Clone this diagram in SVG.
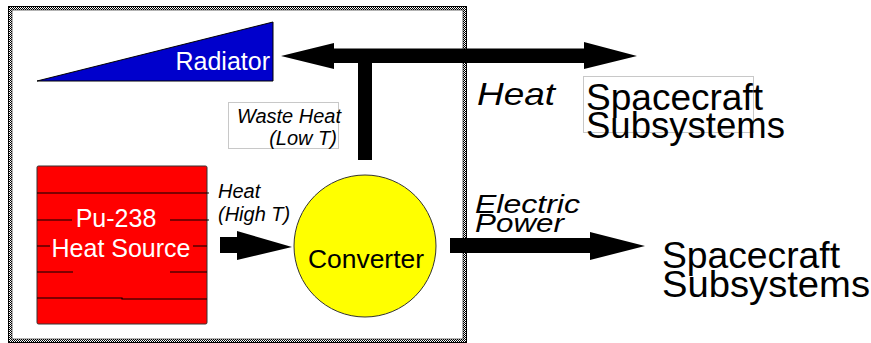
<svg xmlns="http://www.w3.org/2000/svg" width="871" height="343" viewBox="0 0 871 343">
<defs>
<pattern id="chk" width="2" height="2" patternUnits="userSpaceOnUse">
<rect width="2" height="2" fill="#fff"/>
<rect width="1" height="1" fill="#000"/>
<rect x="1" y="1" width="1" height="1" fill="#000"/>
</pattern>
</defs>
<style>
text{font-family:"Liberation Sans",Arial,sans-serif;}
.it{font-style:italic;}
.w{fill:#fff;}
.k{fill:#000;}
.lbl{fill:none;stroke:#c8c8c8;stroke-width:1;}
.ln{stroke:#000;stroke-width:1.2;fill:none;}
.arr{fill:#000;stroke:none;}
</style>
<rect width="871" height="343" fill="#fff"/>
<g id="boundary">
<rect x="8" y="6" width="459" height="337" fill="url(#chk)"/>
<rect x="8.5" y="6.5" width="458" height="336" fill="none" stroke="#000" stroke-width="1"/>
<rect x="12" y="10" width="451" height="329" fill="#fff" stroke="#000" stroke-width="0.6"/>
</g>
<g id="radiator">
<polygon points="37,81 273,22 273,81" fill="#0000cc" stroke="#000" stroke-width="1"/>
<text x="270" y="70" text-anchor="end" font-size="25" class="w">Radiator</text>
</g>
<g id="heat-source">
<rect x="37" y="166" width="170" height="158" rx="1.5" fill="#ff0000" stroke="#333" stroke-width="1"/>
<path class="ln" d="M37,193H209 M37,220H72 M170,220H209 M37,246H50 M193,246H207 M37,272H73 M170,272H207 M37,298H122V299H207"/>
<text x="116" y="227" text-anchor="middle" font-size="25" class="w">Pu-238</text>
<text x="121" y="257" text-anchor="middle" font-size="25" class="w">Heat Source</text>
</g>
<g id="converter">
<circle cx="365" cy="246" r="71" fill="#ffff00" stroke="#333" stroke-width="1"/>
<text x="366" y="268" text-anchor="middle" font-size="25" textLength="116" lengthAdjust="spacingAndGlyphs" class="k">Converter</text>
</g>
<g id="waste-heat-label">
<rect x="228.5" y="102.5" width="110" height="46" class="lbl"/>
<text x="341" y="123" text-anchor="end" font-size="20" class="it k">Waste Heat</text>
<text x="337" y="145" text-anchor="end" font-size="20" class="it k">(Low T)</text>
</g>
<g id="heat-high-label">
<text x="218" y="198" font-size="20" class="it k">Heat</text>
<text x="218" y="221" font-size="20" class="it k">(High T)</text>
</g>
<g id="heat-label">
<text x="477" y="105" font-size="32" textLength="78" lengthAdjust="spacingAndGlyphs" class="it k">Heat</text>
</g>
<g id="electric-label">
<text x="475" y="213" font-size="25" textLength="105" lengthAdjust="spacingAndGlyphs" class="it k">Electric</text>
<text x="475" y="232" font-size="25" textLength="89" lengthAdjust="spacingAndGlyphs" class="it k">Power</text>
</g>
<g id="subsystems-top">
<rect x="583.5" y="76.5" width="170" height="56" class="lbl"/>
<text x="586" y="110" font-size="37" textLength="177" lengthAdjust="spacingAndGlyphs" class="k">Spacecraft</text>
<text x="586" y="138" font-size="37" textLength="199" lengthAdjust="spacingAndGlyphs" class="k">Subsystems</text>
</g>
<g id="subsystems-bottom">
<text x="662" y="268" font-size="37" textLength="178" lengthAdjust="spacingAndGlyphs" class="k">Spacecraft</text>
<text x="662" y="297" font-size="37" textLength="208" lengthAdjust="spacingAndGlyphs" class="k">Subsystems</text>
</g>
<g id="connectors">
<polygon class="arr" points="281,56 334,43 334,48.5 584,48.5 584,42 637,56 584,69 584,63 372,63 372,160 358,160 358,63 334,63 334,69"/>
<polygon class="arr" points="220,237 237,237 237,231 292,247 237,260 237,253 220,253"/>
<polygon class="arr" points="450,238 590,238 590,232 645,246 590,260 590,253 450,253"/>
</g>
</svg>
